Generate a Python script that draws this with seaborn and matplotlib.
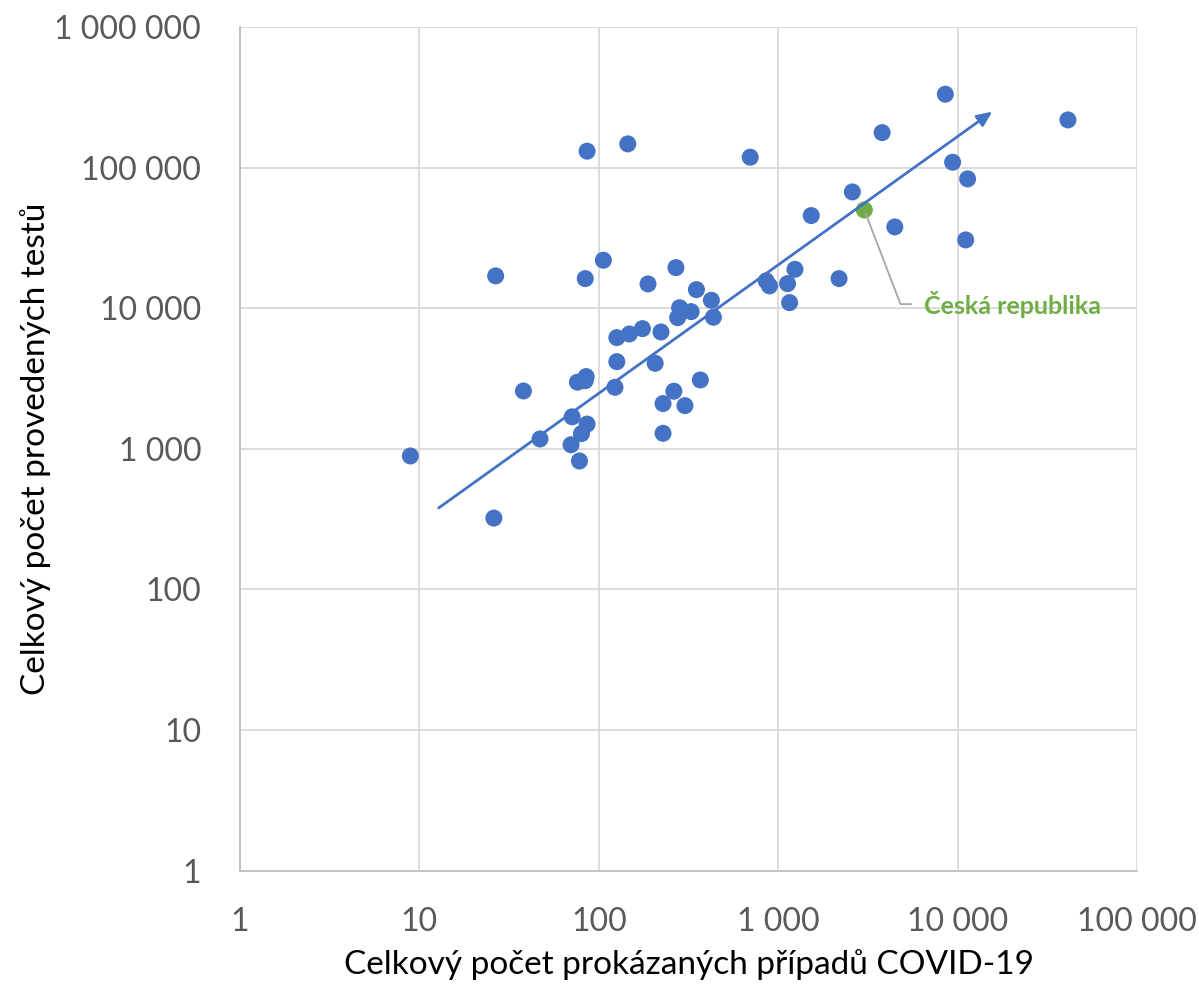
import matplotlib
matplotlib.use("Agg")
import matplotlib.pyplot as plt
from matplotlib.ticker import FixedLocator, FuncFormatter, NullLocator
import pandas as pd
import seaborn as sns

# cases vs. tests per country
cases = [8.9, 26, 26.6, 38, 47, 106, 84, 269, 188, 350, 424, 282, 327, 275, 435,
         126, 148, 175, 222, 126, 206, 76, 85, 84, 123, 368, 262, 228, 302, 228,
         71, 86, 80, 70, 78, 86, 145, 698, 8540, 41200, 3795, 9380, 11370, 2590,
         1528, 4466, 11090, 1240, 857, 894, 1127, 2183, 1157]
tests = [890, 322, 16980, 2580, 1176, 21950, 16250, 19450, 14890, 13560, 11400,
         10090, 9460, 8570, 8630, 6180, 6560, 7160, 6780, 4170, 4060, 2980, 3265,
         3055, 2740, 3090, 2570, 2100, 2030, 1290, 1690, 1500, 1283, 1070, 820,
         130900, 147500, 118600, 332700, 218400, 177400, 109200, 83150, 67150,
         45600, 37880, 30600, 18920, 15640, 14420, 14960, 16250, 10960]

cz_cases = [3020]
cz_tests = [50000]
cz_label = "Česká republika"

trend_x = [12.8, 15600]
trend_y = [380, 250000]

ticks = [1, 10, 100, 1000, 10000, 100000, 1000000]

BLUE = "#4472C4"
GREEN = "#70AD47"

sns.set_style("white")
plt.rcParams["font.family"] = ["Lato", "DejaVu Sans"]

df = pd.DataFrame({"cases": cases, "tests": tests})
cz = pd.DataFrame({"cases": cz_cases, "tests": cz_tests})

fig = plt.figure(figsize=(11.99, 9.89), dpi=100)
ax = fig.add_axes([0.2002, 0.1196, 0.7481, 0.8531])
ax.set_xscale("log")
ax.set_yscale("log")

sns.scatterplot(data=df, x="cases", y="tests", ax=ax, color=BLUE, s=150,
                edgecolor="none", zorder=3)
sns.scatterplot(data=cz, x="cases", y="tests", ax=ax, color=GREEN, s=150,
                edgecolor="none", zorder=4)

# trend arrow
ax.annotate("", xy=(trend_x[1], trend_y[1]), xytext=(trend_x[0], trend_y[0]),
            arrowprops=dict(arrowstyle="-|>,head_length=0.9,head_width=0.4",
                            color=BLUE, lw=2, shrinkA=0, shrinkB=0), zorder=5)

# callout for the Czech Republic
ax.annotate(cz_label, xy=(cz_cases[0], cz_tests[0]), xytext=(6500, 10700),
            color=GREEN, fontsize=18, fontweight="bold", va="center", ha="left",
            arrowprops=dict(arrowstyle="-", color="#A5A5A5", lw=1.3,
                            connectionstyle="angle,angleA=0,angleB=-69,rad=0",
                            shrinkA=7, shrinkB=3), zorder=6)

ax.set_xlim(1, 100000)
ax.set_ylim(1, 1000000)

fmt = FuncFormatter(lambda v, p: f"{int(round(v)):,}".replace(",", " "))
ax.xaxis.set_major_locator(FixedLocator(ticks[:-1]))
ax.yaxis.set_major_locator(FixedLocator(ticks))
ax.xaxis.set_minor_locator(NullLocator())
ax.yaxis.set_minor_locator(NullLocator())
ax.xaxis.set_major_formatter(fmt)
ax.yaxis.set_major_formatter(fmt)
ax.tick_params(axis="x", length=0, pad=26, labelsize=23, labelcolor="#595959")
ax.tick_params(axis="y", length=0, pad=28, labelsize=23, labelcolor="#595959")

ax.grid(True, color="#D9D9D9", lw=1.3)
ax.set_axisbelow(True)
for side in ["top", "right"]:
    ax.spines[side].set_visible(False)
for side in ["left", "bottom"]:
    ax.spines[side].set_color("#BFBFBF")
    ax.spines[side].set_linewidth(1.3)

ax.set_xlabel("Celkový počet prokázaných případů COVID-19", fontsize=24,
              color="black")
ax.set_ylabel("Celkový počet provedených testů", fontsize=24, color="black")
ax.xaxis.set_label_coords(0.5, -0.1115)
ax.xaxis.label.set_va("center")
ax.yaxis.set_label_coords(-0.2285, 0.5)
ax.yaxis.label.set_va("center")

fig.savefig("out.png", dpi=100)
